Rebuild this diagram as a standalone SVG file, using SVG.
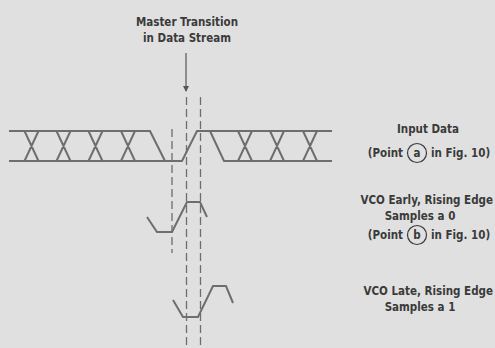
<svg xmlns="http://www.w3.org/2000/svg" width="495" height="348" viewBox="0 0 495 348">
  <defs>
    <style>
      .bg { fill: #e0e0e0; }
      .wave { fill: none; stroke: #6e6e6e; stroke-width: 2; stroke-linejoin: miter; }
      .dash { fill: none; stroke: #6e6e6e; stroke-width: 1.3; stroke-dasharray: 8 4; }
      .arrow { fill: none; stroke: #555; stroke-width: 1.2; }
      .lbl { font-family: "DejaVu Sans Condensed", "DejaVu Sans", sans-serif; font-stretch: condensed; font-weight: bold; font-size: 11.5px; fill: #3a3a3a; }
      .mid { text-anchor: middle; }
      .end { text-anchor: end; }
      .ring { fill: none; stroke: #3a3a3a; stroke-width: 1.2; }
    </style>
    <marker id="ah" markerWidth="6" markerHeight="6" refX="5" refY="3" orient="auto" markerUnits="userSpaceOnUse">
      <path d="M0,0 L6,3 L0,6 Z" fill="#555"/>
    </marker>
  </defs>
  <rect class="bg" x="0" y="0" width="495" height="348"/>

  <g id="title">
    <text class="lbl mid" x="187" y="26">Master Transition</text>
    <text class="lbl mid" x="187" y="42">in Data Stream</text>
  </g>

  <g id="input-data">
    <path class="wave" d="M9,131 H150 L165,161 M9,161 H182 L197,131 H332 M210,131 L224,161 H332"/>
    <path class="wave" d="M24.5,131 L38.5,161 M38.5,131 L24.5,161 M56.5,131 L70.5,161 M70.5,131 L56.5,161 M88.5,131 L102.5,161 M102.5,131 L88.5,161 M121,131 L135,161 M135,131 L121,161 M238,131 L252,161 M252,131 L238,161 M270,131 L284,161 M284,131 L270,161 M303,131 L317,161 M317,131 L303,161"/>
  </g>

  <g id="vco-early">
    <path class="wave" d="M147,217 L157,232 H172 L187,202 H200 L207,217"/>
  </g>

  <g id="vco-late">
    <path class="wave" d="M173,300 L183,317 H198 L213,286 H226 L233,303"/>
  </g>

  <g id="connectors">
    <line class="arrow" x1="186" y1="53" x2="186" y2="91" marker-end="url(#ah)"/>
    <line class="dash" x1="172" y1="129" x2="172" y2="253"/>
    <line class="dash" x1="186.5" y1="97" x2="186.5" y2="348"/>
    <line class="dash" x1="200.5" y1="97" x2="200.5" y2="348"/>
  </g>

  <g id="label-input">
    <text class="lbl mid" x="428" y="133">Input Data</text>
    <text class="lbl end" x="403" y="157">(Point</text>
    <circle class="ring" cx="417" cy="153" r="9.5"/>
    <text class="lbl mid" x="417" y="157">a</text>
    <text class="lbl" x="431" y="157">in Fig. 10)</text>
  </g>

  <g id="label-early">
    <text class="lbl end" x="493" y="204">VCO Early, Rising Edge</text>
    <text class="lbl mid" x="420" y="220">Samples a 0</text>
    <text class="lbl end" x="403" y="239">(Point</text>
    <circle class="ring" cx="417" cy="235" r="9.5"/>
    <text class="lbl mid" x="417" y="239">b</text>
    <text class="lbl" x="431" y="239">in Fig. 10)</text>
  </g>

  <g id="label-late">
    <text class="lbl end" x="493" y="295">VCO Late, Rising Edge</text>
    <text class="lbl mid" x="420" y="311">Samples a 1</text>
  </g>
</svg>
